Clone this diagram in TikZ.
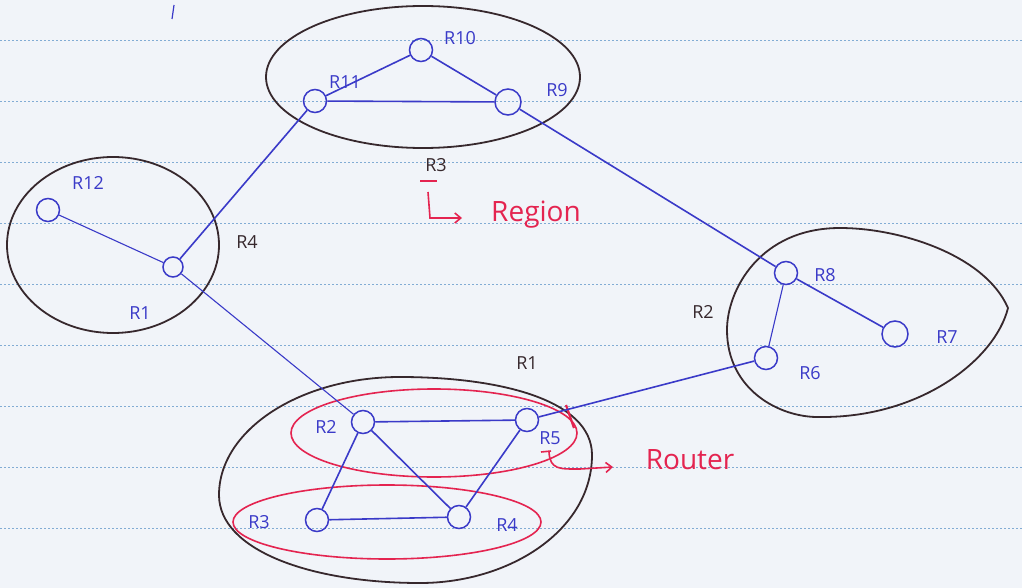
\documentclass[tikz,border=0pt]{standalone}
\usepackage{fontspec}
\setmainfont{Open Sans}
\usetikzlibrary{arrows.meta}
\definecolor{paper}{RGB}{241,244,249}
\definecolor{rulecol}{RGB}{130,172,212}
\definecolor{blueink}{RGB}{58,58,200}
\definecolor{blackink}{RGB}{55,40,45}
\definecolor{redink}{RGB}{228,36,80}
\begin{document}
\begin{tikzpicture}[x=1pt,y=-1pt,
  router/.style={circle,draw=blueink,line width=1.5pt,minimum size=23pt,inner sep=0pt},
  link/.style={draw=blueink,line width=1.6pt},
  thinlink/.style={draw=blueink,line width=1.1pt},
  region/.style={draw=blackink,line width=1.8pt},
  redring/.style={draw=redink,line width=1.6pt},
  blab/.style={text=blueink,font=\fontsize{18}{18}\selectfont,inner sep=0pt},
  klab/.style={text=blackink,font=\fontsize{18}{18}\selectfont,inner sep=0pt},
  rlab/.style={text=redink,font=\fontsize{28}{28}\selectfont,inner sep=0pt},
  rarrow/.style={draw=redink,line width=1.6pt,-{Straight Barb[length=6pt,width=10pt]}},
]
\useasboundingbox (0,0) rectangle (1022,588);
\fill[paper] (0,0) rectangle (1022,588);
\foreach \yy in {40,101,162,223,284,345,406,467,528}
  \draw[rulecol,line width=0.8pt,dash pattern=on 2pt off 2pt] (0,\yy) -- (1022,\yy);
\draw[blueink,line width=1.2pt] (174,5) -- (172,19);

% regions
\draw[region] (423,77) ellipse [x radius=157, y radius=71];
\draw[region] (113,245) ellipse [x radius=106, y radius=88];
\draw[region] (1008,308) .. controls (985,255) and (900,228) .. (840,228)
  .. controls (760,228) and (727,290) .. (727,330)
  .. controls (727,390) and (780,418) .. (820,417)
  .. controls (920,418) and (995,360) .. (1008,308);
\draw[region] (400,377) .. controls (500,377) and (592,400) .. (592,455)
  .. controls (592,530) and (510,583) .. (420,583)
  .. controls (310,583) and (219,550) .. (219,495)
  .. controls (219,430) and (300,377) .. (400,377);

% red rings
\draw[redring] (434,433) ellipse [x radius=143, y radius=44];
\draw[redring] (387,522) ellipse [x radius=154, y radius=37];
\draw[redink,line width=2.2pt] (566,405) -- (574,428);

% routers
\node[router] (n10) at (421,50) {};
\node[router] (n11) at (315,101) {};
\node[router,minimum size=26pt] (n9) at (508,102) {};
\node[router] (n12) at (48,210) {};
\node[router,minimum size=20pt] (n1r) at (173,267) {};
\node[router] (n8) at (786,273) {};
\node[router] (n6) at (766,358) {};
\node[router,minimum size=26pt] (n7) at (895,334) {};
\node[router] (b2) at (363,422) {};
\node[router] (b5) at (527,420) {};
\node[router] (b3) at (317,520) {};
\node[router] (b4) at (459,517) {};

% links
\draw[link] (n11) -- (n10);
\draw[link] (n10) -- (n9);
\draw[link] (n11) -- (n9);
\draw[link] (n1r) -- (n11);
\draw[link] (n9) -- (n8);
\draw[thinlink] (n12) -- (n1r);
\draw[thinlink] (n1r) -- (b2);
\draw[thinlink] (n8) -- (n6);
\draw[link] (n8) -- (n7);
\draw[link] (n6) -- (b5);
\draw[link] (b2) -- (b5);
\draw[link] (b2) -- (b3);
\draw[link] (b2) -- (b4);
\draw[link] (b3) -- (b4);
\draw[link] (b4) -- (b5);

% labels
\node[blab] (l10) at (460,38) {R10};
\node[blab] (l11) at (345,82) {R11};
\node[blab] (l9) at (557,90) {R9};
\node[blab] (l12) at (88,183) {R12};
\node[klab] (lR4) at (247,242) {R4};
\node[blab] (l1) at (140,313) {R1};
\node[blab] (l8) at (825,275) {R8};
\node[blab] (l7) at (947,337) {R7};
\node[blab] (l6) at (810,373) {R6};
\node[klab] (lR2) at (703,312) {R2};
\node[klab] (lR1) at (527,363) {R1};
\node[blab] (lb2) at (326,427) {R2};
\node[blab] (lb5) at (550,438) {R5};
\node[blab] (lb3) at (259,522) {R3};
\node[blab] (lb4) at (507,525) {R4};
\node[klab] (lR3) at (436,165) {R3};

% annotations
\draw[redink,line width=1.6pt] (420,181) -- (437,181);
\coordinate (ra0) at (428,192);
\coordinate (ra1) at (430,218);
\coordinate (ra2) at (462,218);
\draw[rarrow] (ra0) -- (ra1) -- (ra2);
\node[rlab] (region) at (536,215) {Region};

\coordinate (rb0) at (541,452);
\coordinate (rb1) at (551,451);
\coordinate (rb2) at (549,452);
\coordinate (rb3) at (613,467);
\draw[redink,line width=1.6pt] (rb0) -- (rb1);
\draw[rarrow] (rb2) .. controls (550,470) and (560,469) .. (580,469) -- (rb3);
\node[rlab] (router) at (690,460) {Router};
\end{tikzpicture}
\end{document}
